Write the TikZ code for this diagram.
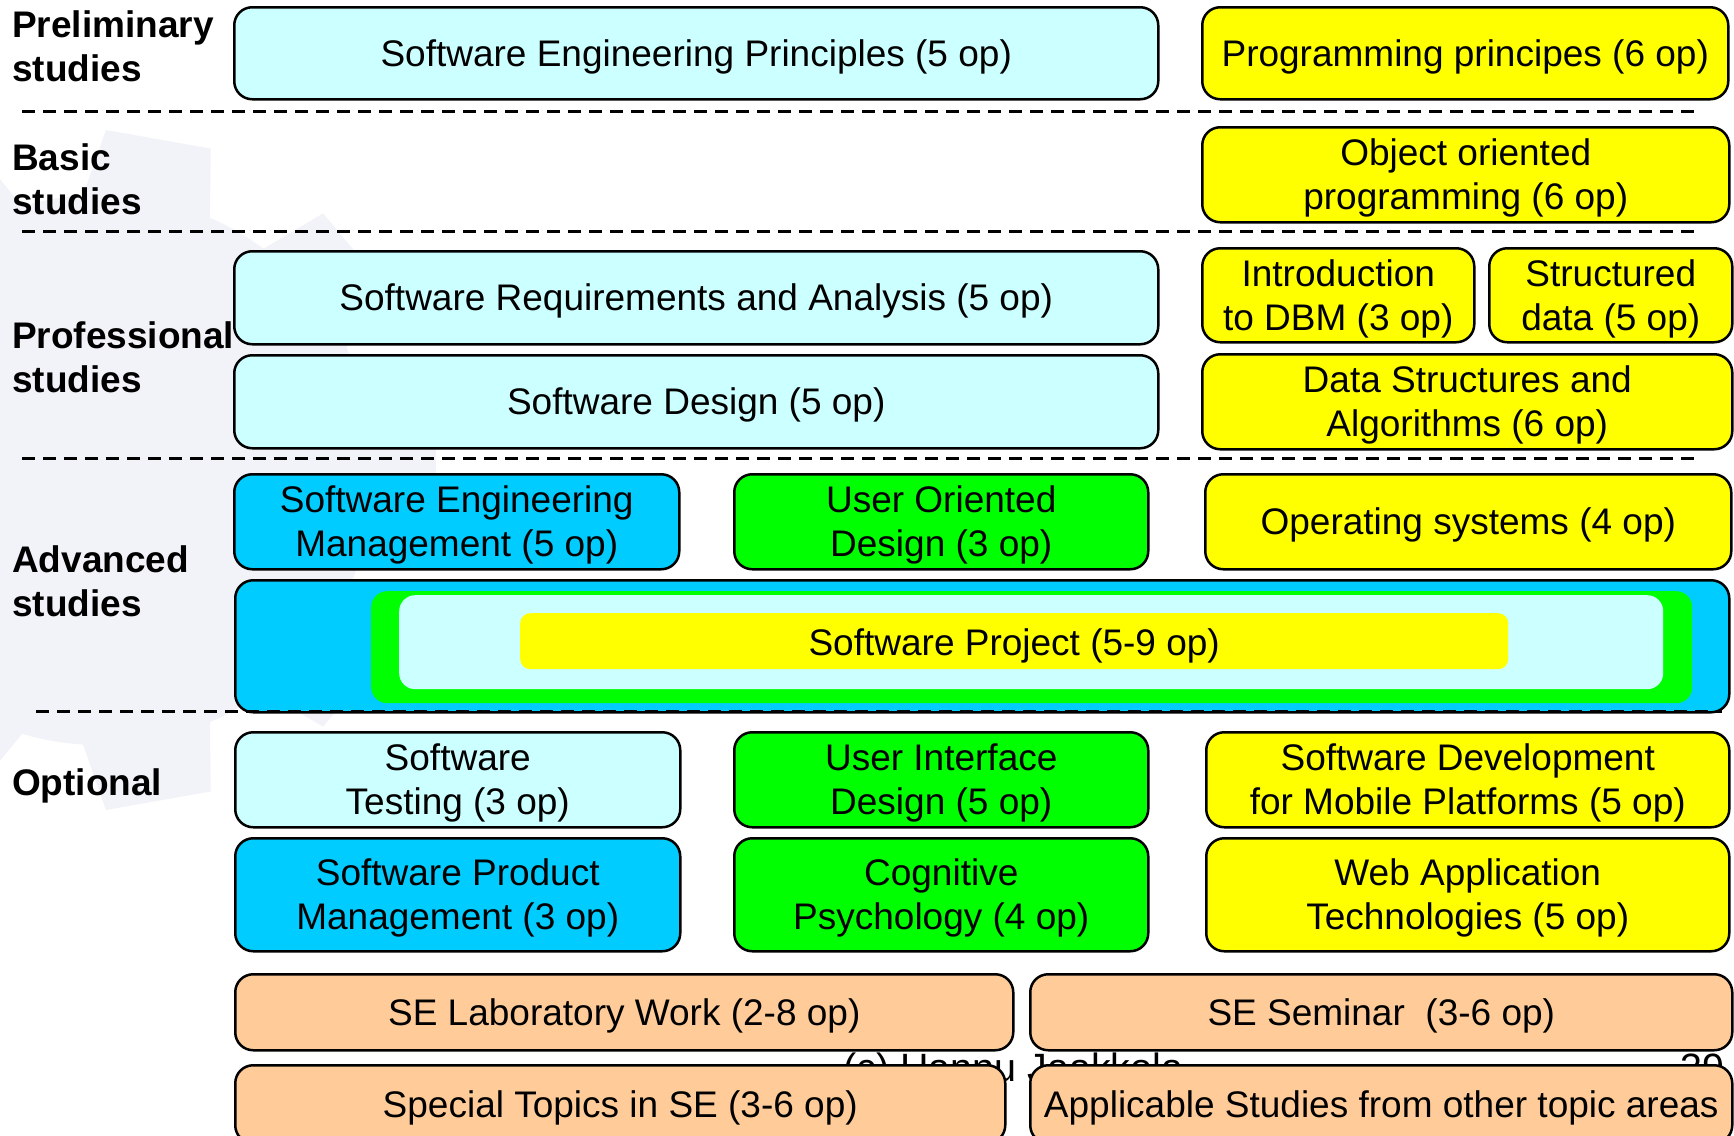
\documentclass[tikz,border=0pt]{standalone}
\usepackage{fontspec}
\setmainfont{Liberation Sans}
\definecolor{lcyan}{HTML}{CCFFFF}
\definecolor{dblue}{HTML}{00CCFF}
\definecolor{lgreen}{HTML}{00FF00}
\definecolor{lyellow}{HTML}{FFFF00}
\definecolor{peach}{HTML}{FFCC99}
\definecolor{gearc}{HTML}{F1F3F9}
\newcommand\mainsz{\fontsize{37}{44}\selectfont}
\newcommand\tx[1]{\raisebox{-4pt}[\height][\depth]{\begin{tabular}{@{}c@{}}#1\end{tabular}}}
\begin{document}
\begin{tikzpicture}[x=1pt,y=-1pt,
  box/.style={draw, line width=2.5pt, rounded corners=18pt, align=center,
    inner sep=0pt, anchor=north west, font=\mainsz},
  inner/.style={rounded corners=16pt, inner sep=0pt, anchor=north west, align=center, font=\mainsz},
  lab/.style={anchor=west, align=left, inner sep=0pt, font=\mainsz\bfseries},
  sepline/.style={line width=3pt, dash pattern=on 13pt off 8pt}]
\useasboundingbox[fill=white] (0,0) rectangle (1734,1135);
% faint watermark gear
\begin{scope}[shift={(100,470)}]
  \fill[gearc] (0,0) circle[radius=275pt];
  \foreach \a in {0,40,...,320}
    \fill[gearc] (\a-9:340pt) -- (\a+9:340pt) -- (\a+14:270pt) -- (\a-14:270pt) -- cycle;
\end{scope}
% footer (mostly hidden)
\node[anchor=base west, inner sep=0pt, font=\fontsize{39.5}{46}\selectfont] (foot) at (843,1081) {(c) Hannu Jaakkola};
\node[anchor=base east, inner sep=0pt, font=\fontsize{39.5}{46}\selectfont] (pnum) at (1725,1081) {39};
% separators
\coordinate (s1a) at (22,111); \coordinate (s1b) at (1698,111);
\coordinate (s2a) at (22,231); \coordinate (s2b) at (1698,231);
\coordinate (s3a) at (22,458); \coordinate (s3b) at (1698,458);
\coordinate (s4a) at (36,711); \coordinate (s4b) at (1722,711);
\draw[sepline] (s1a) -- (s1b);
\draw[sepline] (s2a) -- (s2b);
\draw[sepline] (s3a) -- (s3b);
% labels
\node[lab] (lpre) at (12,46) {Preliminary\\studies};
\node[lab] (lbas) at (12,179) {Basic\\studies};
\node[lab] (lpro) at (12,357) {Professional\\studies};
\node[lab] (ladv) at (12,581) {Advanced\\studies};
\node[lab] (lopt) at (12,786) {Optional};
% preliminary
\node[box, fill=lcyan, minimum width=924pt, minimum height=92pt] (sep) at (233,6) {\tx{Software Engineering Principles (5 op)}};
\node[box, fill=lyellow, minimum width=526pt, minimum height=92pt] (pp) at (1201,6) {\tx{Programming principes (6 op)}};
% basic
\node[box, fill=lyellow, minimum width=527pt, minimum height=95pt] (oop) at (1201,126) {\tx{Object oriented\\programming (6 op)}};
% professional
\node[box, fill=lcyan, minimum width=924pt, minimum height=93pt] (sra) at (233,250) {\tx{Software Requirements and Analysis (5 op)}};
\node[box, fill=lcyan, minimum width=924pt, minimum height=93pt] (sd) at (233,354) {\tx{Software Design (5 op)}};
\node[box, fill=lyellow, minimum width=272pt, minimum height=94pt] (dbm) at (1201,247) {\tx{Introduction\\to DBM (3 op)}};
\node[box, fill=lyellow, minimum width=243pt, minimum height=94pt] (sdata) at (1488,247) {\tx{Structured\\data (5 op)}};
\node[box, fill=lyellow, minimum width=530pt, minimum height=95pt] (dsa) at (1201,353) {\tx{Data Structures and\\Algorithms (6 op)}};
% advanced
\node[box, fill=dblue, minimum width=445pt, minimum height=95pt] (sem) at (233,473) {\tx{Software Engineering\\Management (5 op)}};
\node[box, fill=lgreen, minimum width=414pt, minimum height=95pt] (uod) at (733,473) {\tx{User Oriented\\Design (3 op)}};
\node[box, fill=lyellow, minimum width=526pt, minimum height=95pt] (os) at (1204,473) {\tx{Operating systems (4 op)}};
% project
\node[box, fill=dblue, minimum width=1494pt, minimum height=132pt] (proj) at (234,579) {};
\node[inner, fill=lgreen, minimum width=1321pt, minimum height=112pt] (projg) at (371,591) {};
\node[inner, fill=lcyan, minimum width=1264pt, minimum height=94pt] (projc) at (399,595) {};
\node[inner, fill=lyellow, rounded corners=10pt, minimum width=988pt, minimum height=56pt] (projy) at (520,613) {\raisebox{-5pt}[\height][\depth]{Software Project (5-9 op)}};
\draw[sepline] (s4a) -- (s4b);
% optional
\node[box, fill=lcyan, minimum width=445pt, minimum height=95pt] (st) at (234,731) {\tx{Software\\Testing (3 op)}};
\node[box, fill=lgreen, minimum width=414pt, minimum height=95pt] (uid) at (733,731) {\tx{User Interface\\Design (5 op)}};
\node[box, fill=lyellow, minimum width=523pt, minimum height=95pt] (sdmp) at (1205,731) {\tx{Software Development\\for Mobile Platforms (5 op)}};
\node[box, fill=dblue, minimum width=445pt, minimum height=113pt] (spm) at (234,837) {\tx{Software Product\\Management (3 op)}};
\node[box, fill=lgreen, minimum width=414pt, minimum height=113pt] (cp) at (733,837) {\tx{Cognitive\\Psychology (4 op)}};
\node[box, fill=lyellow, minimum width=523pt, minimum height=113pt] (wat) at (1205,837) {\tx{Web Application\\Technologies (5 op)}};
% SE extras
\node[box, fill=peach, minimum width=778pt, minimum height=76pt] (selab) at (234,973) {\tx{SE Laboratory Work (2-8 op)}};
\node[box, fill=peach, minimum width=702pt, minimum height=76pt] (sesem) at (1029,973) {\tx{SE Seminar\ \ (3-6 op)}};
\node[box, fill=peach, minimum width=770pt, minimum height=78pt] (spec) at (234,1064) {\tx{Special Topics in SE (3-6 op)}};
\node[box, fill=peach, minimum width=702pt, minimum height=78pt] (appl) at (1029,1064) {\tx{Applicable Studies from other topic areas}};
\end{tikzpicture}
\end{document}
